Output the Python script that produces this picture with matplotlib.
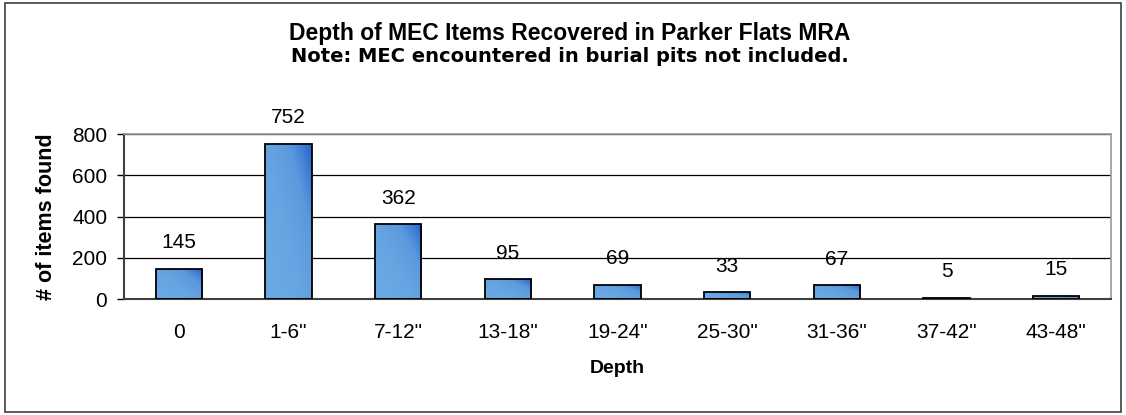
import numpy as np
import matplotlib
matplotlib.use("Agg")
import matplotlib.pyplot as plt
from matplotlib.colors import LinearSegmentedColormap
from matplotlib.patches import Rectangle

plt.rcParams['font.family'] = ['Liberation Sans', 'DejaVu Sans']

# Data
depths = ['0', '1-6"', '7-12"', '13-18"', '19-24"', '25-30"', '31-36"', '37-42"', '43-48"']
items = [145, 752, 362, 95, 69, 33, 67, 5, 15]
y_ticks = [0, 200, 400, 600, 800]

fig = plt.figure(figsize=(11.26, 4.15), dpi=100)
ax = fig.add_axes([0.1101, 0.2795, 0.8766, 0.3976])

x = np.arange(len(depths))
bars = ax.bar(x, items, width=0.42, color='none', edgecolor='black', linewidth=1.3, zorder=3)

# gradient fill: light blue lower-left to darker blue upper-right
cmap = LinearSegmentedColormap.from_list('bl', ['#6aa8e4', '#5b99dd', '#1c5ccb'])
gx, gy = np.meshgrid(np.linspace(0, 1, 60), np.linspace(0, 1, 60))
grad = np.clip(0.65 * gx + 0.55 * gy - 0.25, 0, 1) ** 1.5
for b in bars:
    bx, by, bw, bh = b.get_x(), b.get_y(), b.get_width(), b.get_height()
    im = ax.imshow(grad, cmap=cmap, extent=[bx, bx + bw, by, by + bh],
                   origin='lower', aspect='auto', zorder=2, vmin=0, vmax=1)
    im.set_clip_path(b)

for xi, v in zip(x, items):
    ax.annotate(str(v), (xi, v), xytext=(0, 12), textcoords='offset points',
                ha='center', va='bottom', fontsize=15)

ax.set_xlim(-0.5, len(depths) - 0.5)
ax.set_ylim(0, 800)
ax.set_yticks(y_ticks)
ax.set_xticks(x)
ax.set_xticklabels(depths)
ax.tick_params(axis='x', length=0, pad=17, labelsize=15)
ax.tick_params(axis='y', length=5, width=1, pad=7, labelsize=15, direction='out')
ax.yaxis.grid(True, color='black', linewidth=0.9, zorder=0)
ax.set_axisbelow(True)

for s in ['top', 'right']:
    ax.spines[s].set_color('#999999')
    ax.spines[s].set_linewidth(1.2)
for s in ['left', 'bottom']:
    ax.spines[s].set_color('#404040')
    ax.spines[s].set_linewidth(1.5)

ax.set_xlabel('Depth', fontsize=14, fontweight='bold', labelpad=13)
ax.set_ylabel('# of items found', fontsize=15.5, fontweight='bold', labelpad=11)

fig.text(0.506, 0.919, 'Depth of MEC Items Recovered in Parker Flats MRA',
         ha='center', va='center', fontsize=16.5, fontweight='bold')
fig.text(0.506, 0.864, 'Note: MEC encountered in burial pits not included.',
         ha='center', va='center', fontsize=14, fontweight='bold',
         family='DejaVu Sans')

# outer border
fig.patches.append(Rectangle((0.004, 0.008), 0.992, 0.984, transform=fig.transFigure,
                             fill=False, edgecolor='#404040', linewidth=1.2))

fig.savefig('out.png', dpi=100)
